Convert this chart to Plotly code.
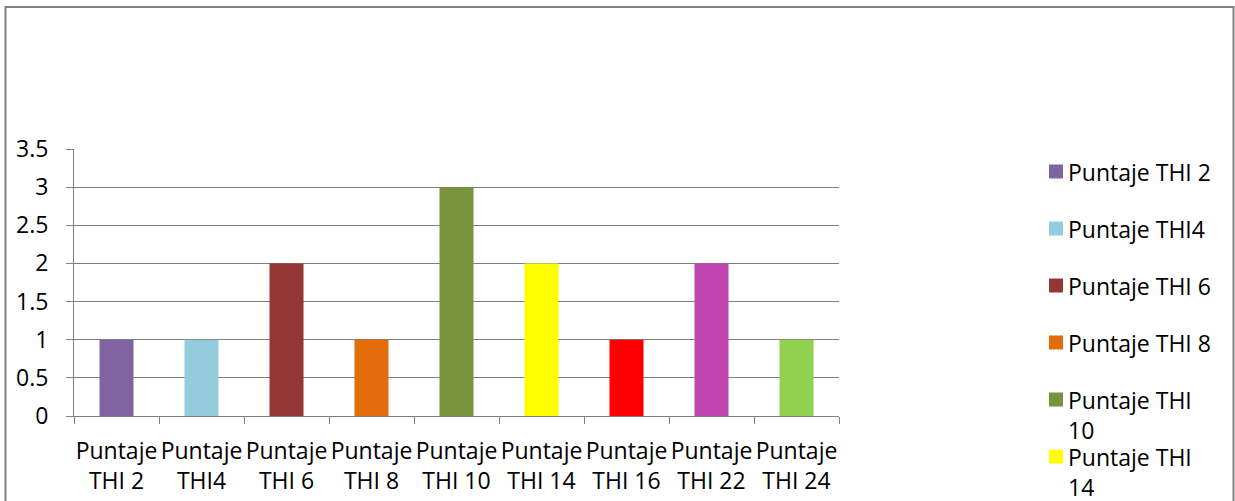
import plotly.graph_objects as go

# Scores per THI item
categories = ["Puntaje THI 2", "Puntaje THI4", "Puntaje THI 6", "Puntaje THI 8",
              "Puntaje THI 10", "Puntaje THI 14", "Puntaje THI 16",
              "Puntaje THI 22", "Puntaje THI 24"]
scores = [1, 1, 2, 1, 3, 2, 1, 2, 1]
colors = ["#8064A2", "#93CDDD", "#953735", "#E46C0A", "#77933C",
          "#FFFF00", "#FF0000", "#C045AE", "#92D050"]
tick_labels = ["Puntaje<br>THI 2", "Puntaje<br>THI4", "Puntaje<br>THI 6",
               "Puntaje<br>THI 8", "Puntaje<br>THI 10", "Puntaje<br>THI 14",
               "Puntaje<br>THI 16", "Puntaje<br>THI 22", "Puntaje<br>THI 24"]
legend_lines = [["Puntaje THI 2"], ["Puntaje THI4"], ["Puntaje THI 6"],
                ["Puntaje THI 8"], ["Puntaje THI", "10"], ["Puntaje THI", "14"],
                ["Puntaje THI", "16"], ["Puntaje THI", "22"], ["Puntaje THI", "24"]]
y_ticks = [0, 0.5, 1, 1.5, 2, 2.5, 3, 3.5]

W, H = 1235, 501
ML, MR, MT, MB = 74, 396, 149, 85
FONT = "Open Sans"
FS = 23
GRAY = "#808080"


def px_x(x):
    return (x - ML) / (W - ML - MR)


def px_y(y):
    return (H - MB - y) / (H - MT - MB)


fig = go.Figure()
fig.add_trace(go.Bar(
    x=categories, y=scores,
    marker=dict(color=colors, line=dict(width=0)),
    showlegend=False, hoverinfo="x+y",
))

shapes = [
    # chart frame (its lower edge runs past the bottom of the page)
    dict(type="rect", xref="paper", yref="paper",
         x0=px_x(5.5), x1=px_x(1233.5), y0=px_y(520), y1=px_y(7),
         line=dict(color=GRAY, width=2), fillcolor="rgba(0,0,0,0)", layer="below"),
]
annotations = []

# legend: colour swatch plus label lines; entries below the frame are cut off
top0, step, line_gap = 171.5, 57, 30
for i, (lines, col) in enumerate(zip(legend_lines, colors)):
    cy = top0 + i * step
    if cy > H - 20:
        break
    shapes.append(dict(type="rect", xref="paper", yref="paper",
                       x0=px_x(1049), x1=px_x(1063), y0=px_y(cy + 7), y1=px_y(cy - 7),
                       line=dict(width=0), fillcolor=col))
    for j, txt in enumerate(lines):
        annotations.append(dict(xref="paper", yref="paper", x=px_x(1067),
                                y=px_y(cy + j * line_gap), text=txt, showarrow=False,
                                xanchor="left", yanchor="middle", borderpad=0,
                                font=dict(family=FONT, size=FS, color="#000000")))

fig.update_layout(
    width=W, height=H,
    margin=dict(l=ML, r=MR, t=MT, b=MB, pad=0, autoexpand=False),
    paper_bgcolor="white", plot_bgcolor="white",
    bargap=0.6,
    font=dict(family=FONT, size=FS, color="#000000"),
    shapes=shapes, annotations=annotations,
)
fig.update_xaxes(
    type="category", tickvals=categories, ticktext=tick_labels, tickangle=0,
    tickson="boundaries", ticks="outside", ticklen=7, tickcolor=GRAY, tickwidth=1,
    showline=True, linecolor=GRAY, linewidth=1, showgrid=False,
    ticklabelstandoff=14, automargin=False,
)
fig.update_yaxes(
    range=[0, 3.5], tickvals=y_ticks, ticktext=[f"{v:g}" for v in y_ticks],
    ticks="outside", ticklen=7, tickcolor=GRAY, tickwidth=1,
    showline=True, linecolor=GRAY, linewidth=1,
    showgrid=True, gridcolor=GRAY, gridwidth=1, zeroline=False,
    ticklabelstandoff=13, automargin=False,
)

fig.write_html("out.html")
